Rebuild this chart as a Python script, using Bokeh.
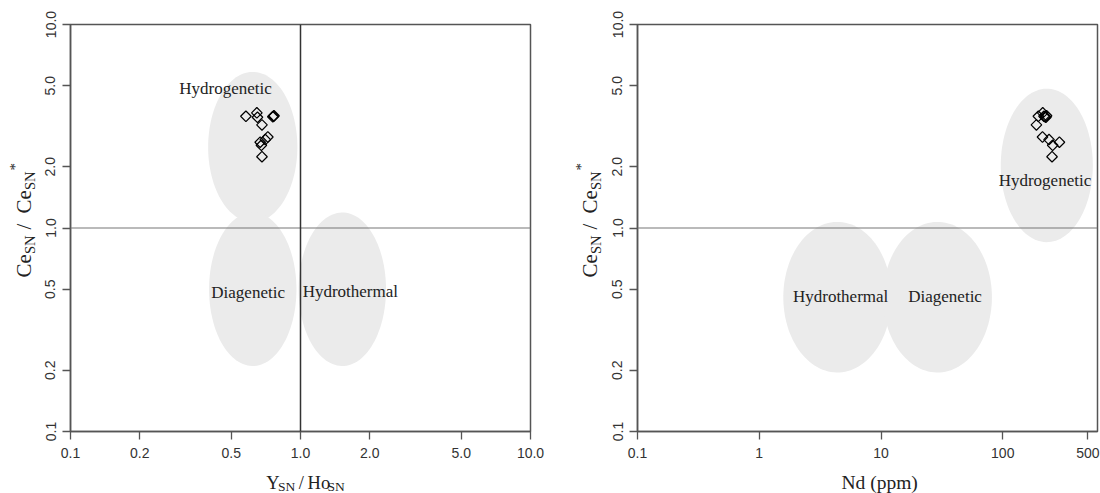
import numpy as np
from bokeh.plotting import figure
from bokeh.models import Range1d, FixedTicker, Span, ColumnDataSource
from bokeh.layouts import row, column
from bokeh.core.properties import value
from bokeh.embed import file_html
from bokeh.resources import INLINE

# ---------------- data ----------------
ce_anomaly = [3.54, 3.68, 3.50, 3.21, 3.54, 3.52, 3.56, 2.80, 2.72, 2.64, 2.55, 2.24]
y_ho = [0.579, 0.646, 0.650, 0.680, 0.763, 0.758, 0.767, 0.721, 0.703, 0.668, 0.676, 0.680]
nd_ppm = [196, 213, 226, 189, 218, 223, 229, 212, 240, 292, 257, 254]

left_ticks = [0.1, 0.2, 0.5, 1.0, 2.0, 5.0, 10.0]
left_tick_labels = ["0.1", "0.2", "0.5", "1.0", "2.0", "5.0", "10.0"]
right_x_ticks = [0.1, 1, 10, 100, 500]
right_x_tick_labels = ["0.1", "1", "10", "100", "500"]

# zone fields (centre values, half-axes in decades)
left_zone_names = ["Hydrogenetic", "Diagenetic", "Hydrothermal"]
left_zone_cx = [0.62, 0.62, 1.52]
left_zone_cy = [2.50, 0.50, 0.50]
left_zone_ax = [0.194, 0.19, 0.19]
left_zone_ay = [0.369, 0.377, 0.377]
left_label_x = [0.472, 0.592, 1.647]
left_label_y = [4.85, 0.483, 0.489]

right_zone_names = ["Hydrothermal", "Diagenetic", "Hydrogenetic"]
right_zone_cx = [4.38, 29.1, 230.0]
right_zone_cy = [0.457, 0.457, 2.03]
right_zone_ax = [0.444, 0.447, 0.378]
right_zone_ay = [0.37, 0.37, 0.377]
right_label_x = [4.66, 33.6, 222.0]
right_label_y = [0.461, 0.461, 1.72]

SERIF = "Liberation Serif"
SANS = "Liberation Sans"
FRAME = "#555555"
INK = "#222222"
PAGE_H = 493
PLOT_H = 464


def ellipse_xy(cx, cy, ax, ay):
    t = np.linspace(0, 2 * np.pi, 120)
    lx = np.log10(cx) + ax * np.cos(t)
    ly = np.log10(cy) + ay * np.sin(t)
    return list(10 ** lx), list(10 ** ly)


def text_canvas(w, h):
    f = figure(width=w, height=h, x_range=Range1d(0, w), y_range=Range1d(0, h),
               min_border=0, x_axis_location=None, y_axis_location=None,
               output_backend="svg", toolbar_location=None,
               background_fill_color="white", border_fill_color="white")
    f.grid.visible = False
    f.outline_line_color = None
    return f


def put(f, pieces, angle=0.0, align="left"):
    for txt, x, y, fs in pieces:
        f.text(x=[x], y=[y], text=[txt], angle=angle, text_font=value(SERIF),
               text_font_size=fs, text_color=INK, text_align=align,
               text_baseline="alphabetic")


def y_title(w, x0):
    # Ce_SN / Ce_SN*, reading bottom to top (x0 = main baseline inside canvas)
    f = text_canvas(w, PLOT_H)
    b, s, t = x0, x0 + 6, x0 - 9
    pieces = [("Ce", b, PLOT_H - 277, "21px"),
              ("SN", s, PLOT_H - 253.5, "14.5px"),
              ("/", b, PLOT_H - 229, "21px"),
              ("Ce", b, PLOT_H - 213, "21px"),
              ("SN", s, PLOT_H - 189.5, "14.5px"),
              ("*", t, PLOT_H - 170, "15px")]
    put(f, pieces, angle=np.pi / 2)
    return f


def make_panel(x_range, x_ticks, x_labels, zones, labels, xs, vline, border_left, border_right):
    p = figure(x_axis_type="log", y_axis_type="log",
               x_range=x_range, y_range=Range1d(0.1, 10),
               frame_width=460, frame_height=407,
               min_border_left=border_left, min_border_right=border_right,
               min_border_top=24, min_border_bottom=PLOT_H - 24 - 407,
               output_backend="svg", toolbar_location=None,
               background_fill_color="white", border_fill_color="white")
    p.grid.visible = False
    p.outline_line_color = FRAME
    p.outline_line_width = 1.5

    p.xaxis.ticker = FixedTicker(ticks=x_ticks)
    p.xaxis.major_label_overrides = {t: s for t, s in zip(x_ticks, x_labels)}
    p.yaxis.ticker = FixedTicker(ticks=left_ticks)
    p.yaxis.major_label_overrides = {t: s for t, s in zip(left_ticks, left_tick_labels)}
    p.yaxis.major_label_orientation = "vertical"
    for ax in (p.xaxis, p.yaxis):
        ax.axis_line_color = FRAME
        ax.axis_line_width = 1.5
        ax.major_tick_line_color = FRAME
        ax.major_tick_line_width = 1.3
        ax.major_tick_in = 0
        ax.major_tick_out = 8
        ax.minor_tick_line_color = None
        ax.major_label_text_font = SANS
        ax.major_label_text_font_size = "14px"
        ax.major_label_text_color = "#333333"
    p.xaxis.major_label_standoff = 8
    p.yaxis.major_label_standoff = 7

    cxs, cys, axs, ays = zones
    for cx, cy, a, b in zip(cxs, cys, axs, ays):
        ex, ey = ellipse_xy(cx, cy, a, b)
        p.patch(ex, ey, fill_color="#ebebeb", line_color=None)

    p.add_layout(Span(location=1.0, dimension="width", line_color="#777777", line_width=1.2))
    if vline:
        p.add_layout(Span(location=1.0, dimension="height", line_color="#333333", line_width=1.5))

    names, lx, ly = labels
    p.text(x=lx, y=ly, text=names, text_font=value(SERIF), text_font_size="17px",
           text_align="center", text_baseline="middle", text_color=INK)

    src = ColumnDataSource(dict(x=xs, y=ce_anomaly))
    p.scatter("x", "y", source=src, marker="square", angle=np.pi / 4, size=7.5,
              fill_color=None, line_color="black", line_width=1.2)
    return p


# left panel: page x 38..560, frame 70..530
YT1_W = 38
p1 = make_panel(Range1d(0.1, 10), left_ticks, left_tick_labels,
                (left_zone_cx, left_zone_cy, left_zone_ax, left_zone_ay),
                (left_zone_names, left_label_x, left_label_y),
                y_ho, True, 70 - YT1_W, 30)
yt1 = y_title(YT1_W, 23)
xt1 = text_canvas(560 - YT1_W, PAGE_H - PLOT_H)
put(xt1, [("Y", 260 - YT1_W, 11, "18.5px"), ("SN", 273.4 - YT1_W, 7, "13.5px"),
          ("/", 297 - YT1_W, 11, "18.5px"), ("Ho", 307 - YT1_W, 11, "18.5px"),
          ("SN", 329.7 - YT1_W, 7, "13.5px")])

# right panel: page x 606..1100, frame 637..1097
YT2_W = 46
p2 = make_panel(Range1d(0.1, 600), right_x_ticks, right_x_tick_labels,
                (right_zone_cx, right_zone_cy, right_zone_ax, right_zone_ay),
                (right_zone_names, right_label_x, right_label_y),
                nd_ppm, False, 637 - 560 - YT2_W, 3)
yt2 = y_title(YT2_W, 589.5 - 560)
xt2 = text_canvas(1100 - 560 - YT2_W, PAGE_H - PLOT_H)
put(xt2, [("Nd (ppm)", 866 - 560 - YT2_W, 11, "19.5px")], align="center")

layout = row(yt1, column(p1, xt1), yt2, column(p2, xt2))
open("out.html", "w").write(file_html(layout, INLINE))
